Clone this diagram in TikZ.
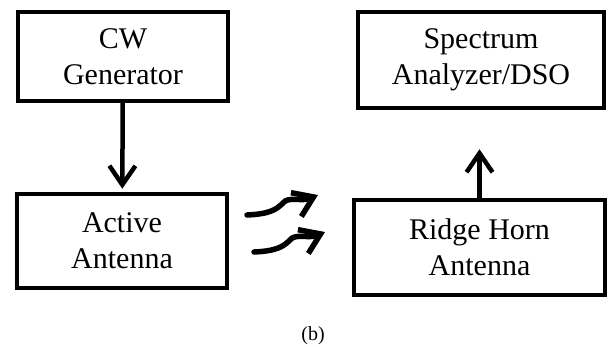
\documentclass[tikz,border=0pt]{standalone}
\usepackage{fontspec}
\setmainfont{Liberation Serif}
\usetikzlibrary{arrows.meta}

\begin{document}
\begin{tikzpicture}[x=1pt,y=-1pt,
	blk/.style={draw=black,line width=4.5pt,inner sep=0pt,align=center,
		font=\fontsize{30}{36}\selectfont},
	arr/.style={line width=4.5pt,line cap=round,
		-{Straight Barb[length=19pt,width=26pt]}}]
	\useasboundingbox (0,0) rectangle (608,346);

	\node[blk,minimum width=210pt,minimum height=89pt] (gen) at (123,56.5) {CW\\Generator};
	\node[blk,minimum width=246pt,minimum height=96pt] (spec) at (481,60) {Spectrum\\Analyzer/DSO};
	\node[blk,minimum width=210pt,minimum height=94pt] (act) at (122,241) {Active\\Antenna};
	\node[blk,minimum width=251pt,minimum height=95pt] (horn) at (479.5,247.5) {Ridge Horn\\Antenna};

	\draw[arr,shorten >=3pt] (gen) -- (act);
	\draw[arr,shorten >=39pt] (horn) -- (horn |- spec.south);

	\coordinate (w1) at (247,215);
	\coordinate (w2) at (254,252);
	\draw[arr,line width=5.5pt] (w1) .. controls +(22,-1) and +(-7,7) .. ++(36,-12)
		.. controls +(5,-7) and +(-16,7) .. ++(35,-8);
	\draw[arr,line width=5.5pt] (w2) .. controls +(22,-1) and +(-7,7) .. ++(36,-12)
		.. controls +(5,-7) and +(-16,7) .. ++(35,-8);

	\node[font=\fontsize{20}{23}\selectfont] (cap) at (313,336) {(b)};
\end{tikzpicture}
\end{document}
